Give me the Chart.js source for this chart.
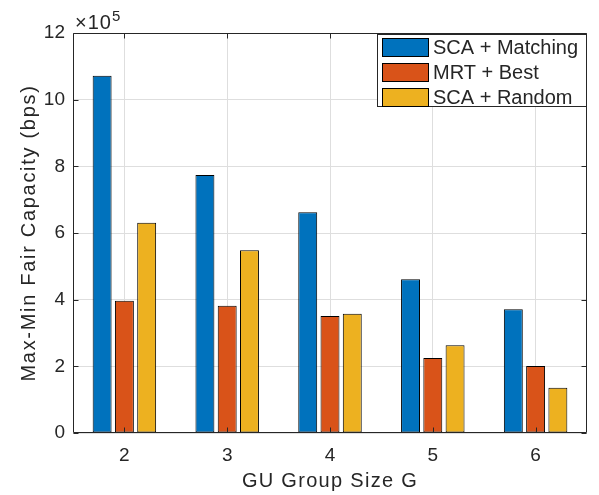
<!DOCTYPE html>
<html><head><meta charset="utf-8">
<script src="https://cdn.jsdelivr.net/npm/chart.js@4.4.1/dist/chart.umd.min.js"></script>
<style>html,body{margin:0;padding:0;background:#fff}canvas{display:block}</style>
</head><body>
<canvas id="c" width="599" height="495"></canvas>
<script>
const categories = ['2', '3', '4', '5', '6'];
const seriesNames = ['SCA + Matching', 'MRT + Best', 'SCA + Random'];
const scaMatching = [1072000, 774000, 662000, 461000, 371000];
const mrtBest = [397000, 382000, 351000, 225000, 201000];
const scaRandom = [631000, 548000, 358000, 263000, 136000];
const yTickValues = [0, 200000, 400000, 600000, 800000, 1000000, 1200000];
const exponent = 5;
const xTitle = 'GU Group Size G';
const yTitle = 'Max-Min Fair Capacity (bps)';

const colors = ['#0072BD', '#D95319', '#EDB120'];
const FONT = '"Liberation Sans", Arial, Helvetica, sans-serif';
const TXT = '#262626';

const framePlugin = {
  id: 'frame',
  afterDatasetsDraw(chart) {
    const {ctx, chartArea: a, scales: {x, y}} = chart;
    ctx.save();
    ctx.strokeStyle = TXT; ctx.lineWidth = 1;
    const L = Math.round(a.left) + 0.5, R = Math.round(a.right) - 0.5;
    const T = Math.round(a.top) + 0.5, B = Math.round(a.bottom) - 0.5;
    ctx.beginPath();
    ctx.rect(L, T, R - L, B - T);
    const tl = 5;
    x.ticks.forEach((t, i) => {
      const px = Math.round(x.getPixelForTick(i)) + 0.5;
      ctx.moveTo(px, B); ctx.lineTo(px, B - tl);
      ctx.moveTo(px, T); ctx.lineTo(px, T + tl);
    });
    y.ticks.forEach((t, i) => {
      const py = Math.round(y.getPixelForTick(i)) + 0.5;
      ctx.moveTo(L, py); ctx.lineTo(L + tl, py);
      ctx.moveTo(R, py); ctx.lineTo(R - tl, py);
    });
    ctx.stroke();
    ctx.restore();
  },
  afterDraw(chart) {
    const {ctx, chartArea: a} = chart;
    ctx.save();
    // exponent
    ctx.fillStyle = TXT;
    ctx.textAlign = 'left'; ctx.textBaseline = 'alphabetic';
    ctx.font = '20px ' + FONT;
    ctx.letterSpacing = '1px';
    ctx.fillText('\u00d710', a.left + 2, a.top - 4);
    const w = ctx.measureText('\u00d710').width;
    ctx.letterSpacing = '0px';
    ctx.font = '15px ' + FONT;
    ctx.fillText(String(exponent), a.left + 2 + w, a.top - 12);
    // axis titles
    ctx.font = '20px ' + FONT;
    ctx.letterSpacing = '1.3px';
    ctx.textAlign = 'center';
    ctx.fillText(xTitle, (a.left + a.right) / 2, 487);
    ctx.save();
    ctx.translate(35, (a.top + a.bottom) / 2);
    ctx.rotate(-Math.PI / 2);
    ctx.letterSpacing = '1.7px';
    ctx.fillText(yTitle, 0, 0);
    ctx.restore();
    ctx.letterSpacing = '0px';
    // legend
    const lx = 377, ly = 34, lw = 210, lh = 73;
    ctx.fillStyle = '#fff';
    ctx.fillRect(lx, ly, lw, lh);
    ctx.strokeStyle = TXT; ctx.lineWidth = 1;
    ctx.strokeRect(lx + 0.5, ly + 0.5, lw - 1, lh - 1);
    ctx.font = '20px ' + FONT;
    ctx.textAlign = 'left'; ctx.textBaseline = 'middle';
    chart.data.datasets.forEach((ds, i) => {
      const sy = 38 + i * 25;
      ctx.fillStyle = ds.backgroundColor;
      ctx.fillRect(382, sy, 47, 18);
      ctx.strokeStyle = '#000';
      ctx.strokeRect(382.5, sy + 0.5, 46, 18);
      ctx.fillStyle = TXT;
      ctx.fillText(ds.label, 433, sy + 10);
    });
    ctx.restore();
  }
};

new Chart(document.getElementById('c'), {
  type: 'bar',
  data: {
    labels: categories,
    datasets: [
      {label: seriesNames[0], data: scaMatching, backgroundColor: colors[0]},
      {label: seriesNames[1], data: mrtBest, backgroundColor: colors[1]},
      {label: seriesNames[2], data: scaRandom, backgroundColor: colors[2]}
    ].map(d => Object.assign(d, {borderColor: '#000', borderWidth: 1, borderSkipped: false,
      categoryPercentage: 0.65, barPercentage: 0.85}))
  },
  options: {
    responsive: false,
    animation: false,
    devicePixelRatio: 1,
    layout: {padding: {left: 0, top: 33, right: 12, bottom: 0}},
    plugins: {legend: {display: false}, tooltip: {enabled: false}},
    scales: {
      x: {
        grid: {offset: false, color: '#dedede', lineWidth: 1, drawTicks: false},
        border: {display: false},
        ticks: {color: TXT, font: {family: FONT, size: 19}, padding: 11},
        afterFit: s => { s.height = 62; }
      },
      y: {
        min: 0, max: 1200000,
        grid: {color: '#dedede', lineWidth: 1, drawTicks: false},
        border: {display: false},
        afterBuildTicks: s => { s.ticks = yTickValues.map(v => ({value: v})); },
        ticks: {color: TXT, font: {family: FONT, size: 19}, padding: 8,
          callback: v => String(v / Math.pow(10, exponent))},
        afterFit: s => { s.width = 73; }
      }
    }
  },
  plugins: [framePlugin]
});
</script>
</body></html>
